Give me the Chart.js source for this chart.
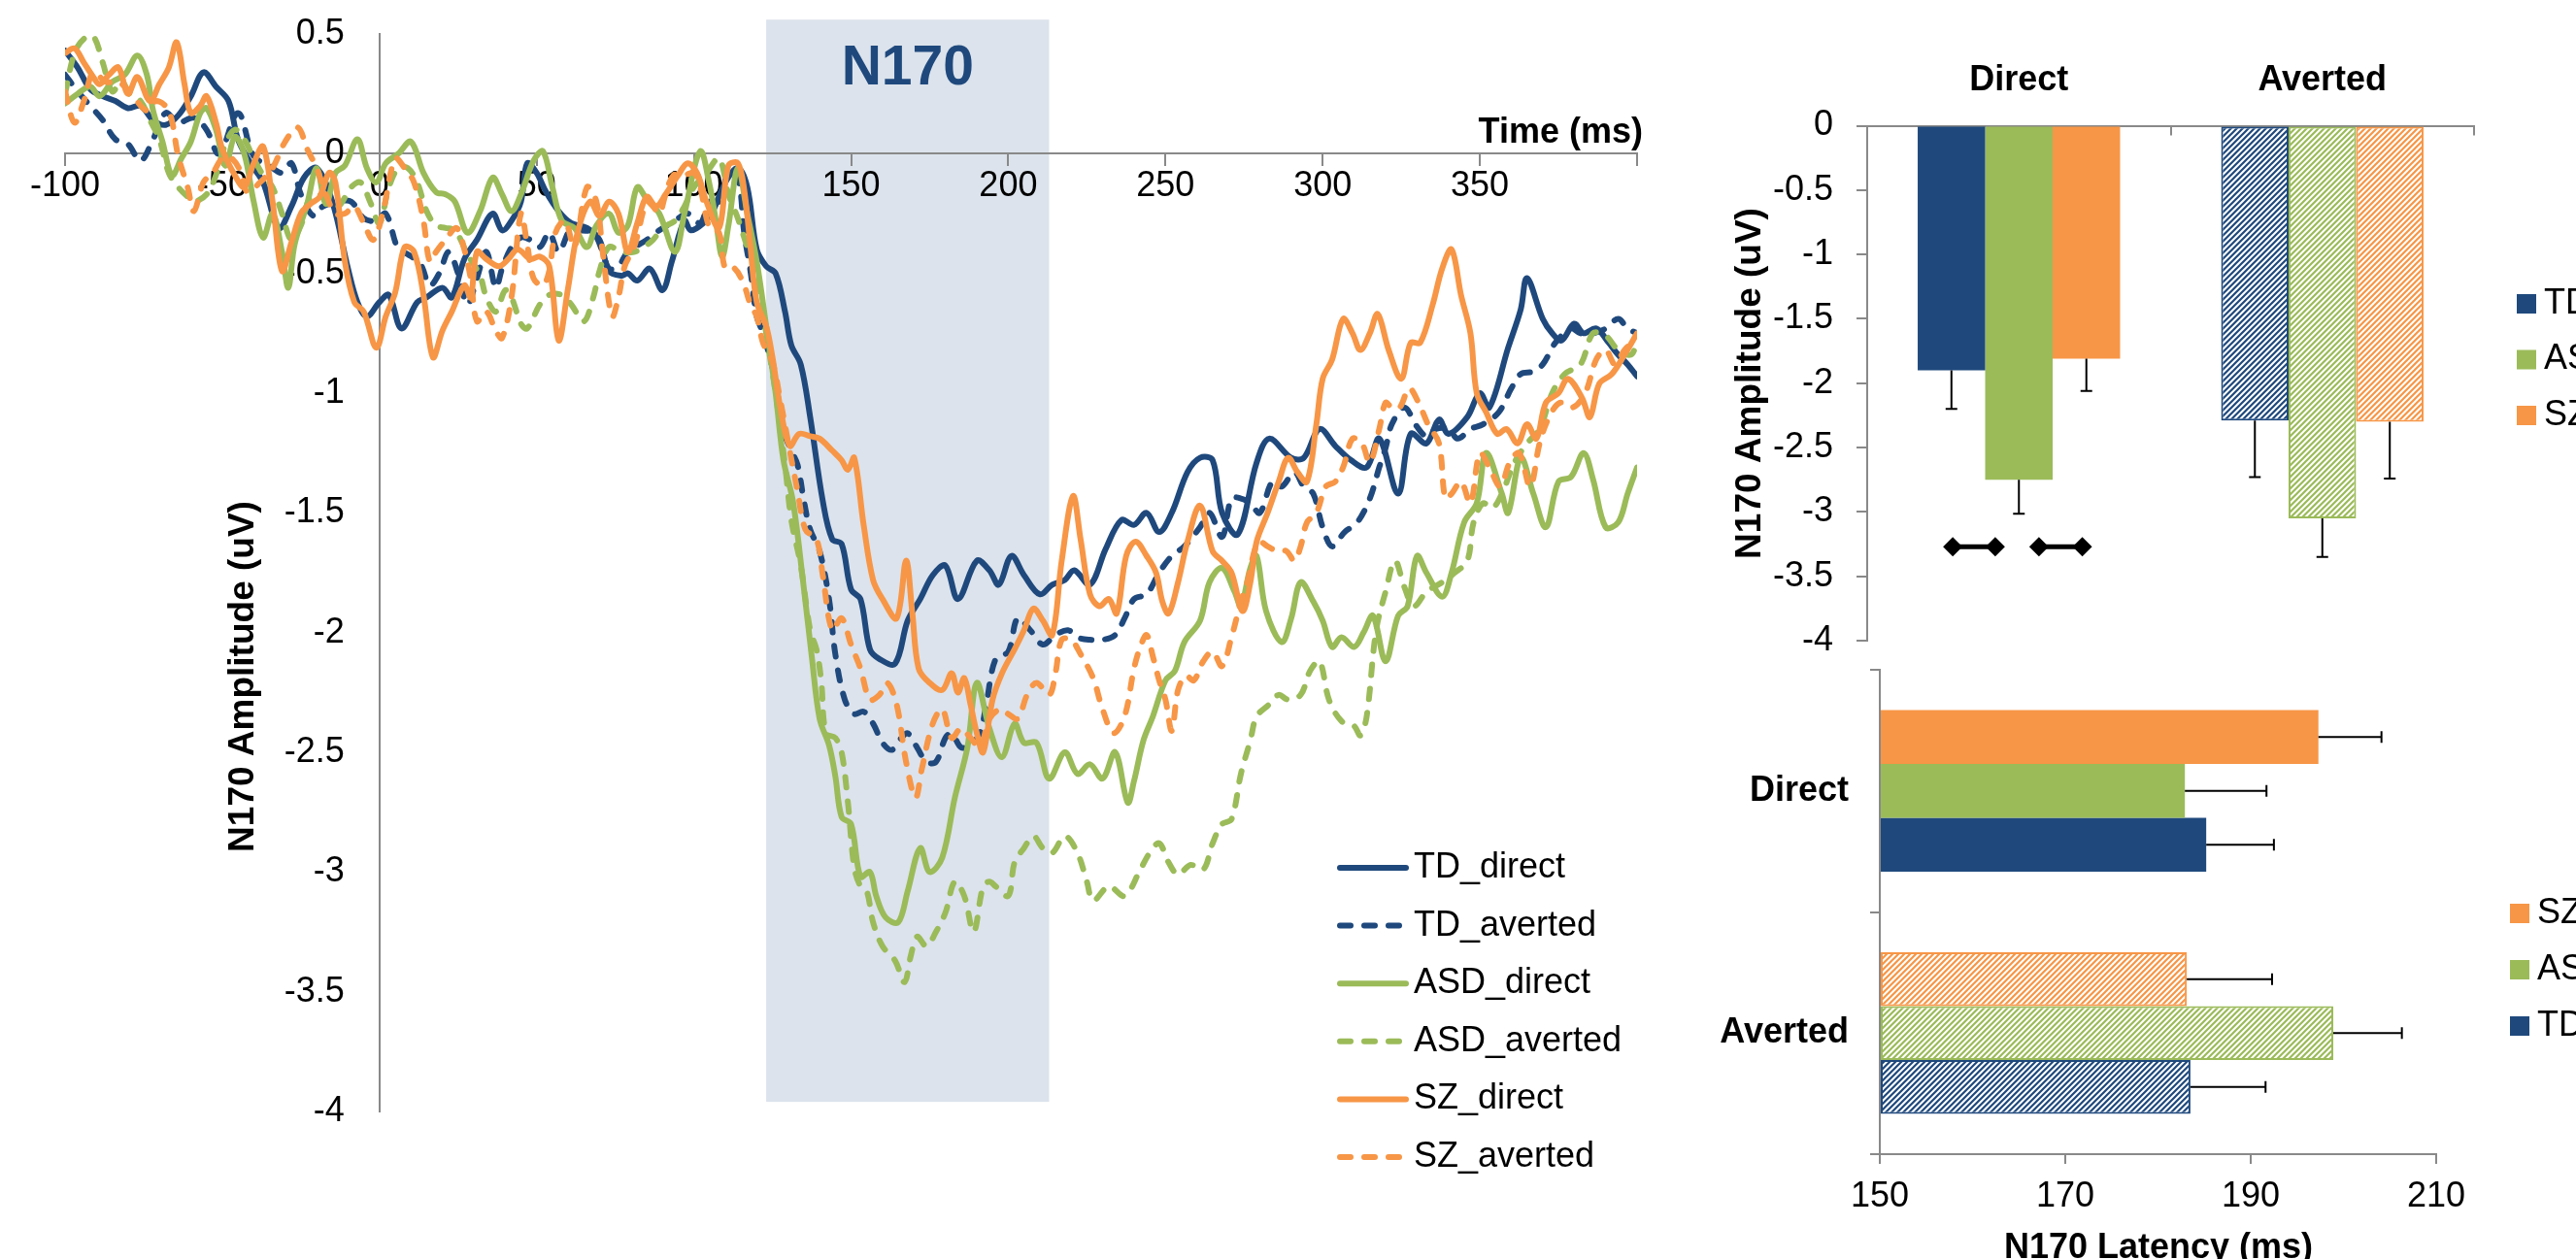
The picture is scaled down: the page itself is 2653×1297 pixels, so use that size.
<!DOCTYPE html>
<html>
<head>
<meta charset="utf-8">
<title>N170 amplitude and latency</title>
<script src="https://cdn.jsdelivr.net/npm/chart.js@4.4.1/dist/chart.umd.min.js"></script>
<style>
  html, body { margin: 0; padding: 0; background: #fff; overflow: hidden; width: 2653px; height: 1297px; }
  canvas { position: absolute; }
</style>
</head>
<body>
<canvas id="erp" width="1740" height="1297" style="left:0;top:0"></canvas>
<canvas id="amp" width="913" height="710" style="left:1740px;top:0"></canvas>
<canvas id="lat" width="913" height="657" style="left:1740px;top:640px"></canvas>
<canvas id="sig" width="913" height="710" style="left:1740px;top:0"></canvas>
<script>
// ---------- Grand-average waveforms: [time (ms), amplitude (uV)] ----------
const TD_direct = [[-100,0.43],[-96,0.36],[-92,0.27],[-88,0.24],[-84,0.22],[-80,0.19],[-76,0.2],[-72,0.14],[-68,0.12],[-64,0.16],[-60,0.24],[-56,0.34],[-52,0.28],[-48,0.22],[-45,0.06],[-41,-0.04],[-37,-0.12],[-32,-0.31],[-28,-0.22],[-24,-0.1],[-20,-0.06],[-15,-0.2],[-10,-0.48],[-7,-0.62],[-4,-0.68],[0,-0.62],[3,-0.59],[7,-0.73],[12,-0.62],[15,-0.6],[20,-0.56],[23,-0.6],[27,-0.44],[31,-0.36],[36,-0.25],[39,-0.32],[42,-0.28],[45,-0.2],[47,-0.04],[50,-0.08],[53,-0.16],[57,-0.24],[61,-0.29],[66,-0.31],[70,-0.36],[73,-0.49],[77,-0.51],[79,-0.5],[82,-0.53],[86,-0.48],[90,-0.57],[93,-0.45],[97,-0.28],[99,-0.32],[103,-0.29],[106,-0.24],[110,-0.12],[114,-0.06],[117,-0.14],[120,-0.4],[123,-0.47],[126,-0.5],[129,-0.66],[131,-0.8],[134,-0.88],[137,-1.1],[141,-1.45],[144,-1.61],[147,-1.63],[150,-1.82],[153,-1.86],[156,-2.07],[159,-2.11],[164,-2.13],[168,-1.95],[172,-1.86],[176,-1.76],[180,-1.72],[184,-1.86],[190,-1.7],[194,-1.74],[197,-1.8],[201,-1.68],[205,-1.76],[210,-1.84],[214,-1.8],[218,-1.78],[221,-1.74],[226,-1.8],[231,-1.65],[236,-1.53],[240,-1.55],[244,-1.5],[248,-1.58],[252,-1.5],[257,-1.33],[261,-1.27],[265,-1.28],[268,-1.5],[273,-1.59],[279,-1.29],[283,-1.19],[290,-1.27],[294,-1.27],[299,-1.15],[304,-1.22],[309,-1.28],[314,-1.31],[318,-1.19],[324,-1.42],[328,-1.17],[333,-1.21],[337,-1.11],[340,-1.17],[346,-1.1],[350,-1.0],[353,-1.06],[359,-0.81],[363,-0.65],[365,-0.52],[370,-0.69],[373,-0.75],[376,-0.78],[380,-0.71],[383,-0.75],[387,-0.73],[391,-0.79],[394,-0.84],[397,-0.88],[400,-0.93]];

const TD_averted = [[-100,0.33],[-96,0.26],[-92,0.2],[-88,0.14],[-84,0.06],[-80,0.04],[-76,-0.03],[-72,0.06],[-68,0.17],[-64,0.13],[-59,0.15],[-55,0.1],[-51,0.0],[-45,0.17],[-40,-0.01],[-35,-0.05],[-31,-0.08],[-28,-0.04],[-25,-0.17],[-21,-0.26],[-18,-0.22],[-13,-0.2],[-9,-0.2],[-5,-0.27],[-1,-0.28],[2,-0.25],[6,-0.4],[9,-0.42],[13,-0.46],[16,-0.55],[19,-0.5],[22,-0.41],[25,-0.5],[28,-0.63],[31,-0.52],[34,-0.41],[37,-0.56],[39,-0.48],[42,-0.39],[45,-0.35],[48,-0.36],[51,-0.39],[54,-0.33],[57,-0.41],[61,-0.31],[64,-0.32],[68,-0.33],[71,-0.41],[73,-0.48],[76,-0.47],[79,-0.41],[85,-0.36],[89,-0.32],[94,-0.28],[98,-0.25],[102,-0.29],[105,-0.2],[108,-0.2],[111,-0.08],[114,-0.1],[116,-0.33],[118,-0.49],[120,-0.68],[122,-0.75],[126,-0.95],[128,-1.14],[131,-1.24],[133,-1.3],[135,-1.45],[137,-1.57],[140,-1.66],[143,-1.86],[145,-2.09],[148,-2.28],[151,-2.34],[154,-2.33],[157,-2.38],[160,-2.46],[163,-2.49],[166,-2.44],[168,-2.42],[171,-2.48],[174,-2.54],[177,-2.54],[180,-2.44],[182,-2.42],[185,-2.48],[188,-2.47],[191,-2.42],[193,-2.3],[196,-2.11],[200,-2.08],[203,-1.94],[207,-1.99],[211,-2.05],[215,-2.01],[219,-1.99],[222,-2.02],[226,-2.03],[230,-2.03],[234,-2.01],[237,-1.94],[240,-1.86],[244,-1.84],[248,-1.75],[252,-1.68],[256,-1.64],[261,-1.56],[264,-1.5],[268,-1.6],[271,-1.44],[274,-1.44],[277,-1.46],[280,-1.5],[284,-1.37],[287,-1.39],[291,-1.33],[294,-1.39],[297,-1.42],[300,-1.56],[303,-1.64],[307,-1.58],[311,-1.54],[315,-1.44],[318,-1.31],[320,-1.23],[322,-1.13],[326,-1.06],[330,-1.14],[333,-1.18],[336,-1.15],[340,-1.15],[343,-1.19],[347,-1.15],[351,-1.13],[356,-1.08],[360,-0.98],[363,-0.92],[367,-0.91],[370,-0.88],[374,-0.79],[379,-0.73],[382,-0.75],[386,-0.75],[390,-0.73],[394,-0.69],[397,-0.73],[400,-0.75]];

const ASD_direct = [[-100,0.21],[-96,0.25],[-92,0.28],[-89,0.24],[-85,0.3],[-81,0.33],[-77,0.41],[-74,0.33],[-72,0.18],[-69,0.05],[-66,-0.09],[-63,-0.02],[-60,0.05],[-57,0.17],[-55,0.19],[-52,0.1],[-49,-0.05],[-46,0.07],[-43,0.0],[-40,-0.2],[-37,-0.35],[-34,-0.25],[-31,-0.41],[-29,-0.56],[-27,-0.38],[-23,-0.21],[-20,-0.06],[-17,-0.21],[-14,-0.08],[-11,-0.05],[-7,0.06],[-4,-0.06],[-1,-0.12],[2,-0.04],[6,0.0],[10,0.05],[14,-0.08],[18,-0.16],[21,-0.17],[24,-0.2],[28,-0.33],[32,-0.24],[36,-0.1],[39,-0.17],[42,-0.24],[45,-0.17],[49,-0.03],[52,0.01],[55,-0.14],[58,-0.28],[62,-0.31],[66,-0.39],[69,-0.3],[73,-0.25],[76,-0.33],[79,-0.3],[82,-0.14],[85,-0.19],[89,-0.25],[94,-0.41],[97,-0.25],[102,0.01],[105,-0.13],[107,-0.28],[109,-0.43],[111,-0.3],[114,-0.06],[117,-0.25],[120,-0.45],[123,-0.72],[126,-1.0],[128.5,-1.28],[131.5,-1.45],[134.5,-1.76],[137.5,-2.1],[140,-2.36],[143,-2.47],[145,-2.6],[147,-2.77],[150,-2.8],[153,-3.02],[156,-3.0],[158,-3.1],[161,-3.19],[165,-3.21],[168,-3.08],[172,-2.9],[175,-3.0],[179,-2.94],[183,-2.69],[187,-2.48],[190,-2.21],[194,-2.4],[198,-2.52],[202,-2.38],[205,-2.46],[209,-2.46],[213,-2.61],[218,-2.5],[222,-2.59],[226,-2.55],[230,-2.61],[234,-2.5],[238,-2.71],[240,-2.62],[243,-2.45],[246,-2.35],[250,-2.2],[253,-2.16],[256,-2.04],[261,-1.95],[264,-1.79],[268,-1.73],[272,-1.83],[274,-1.89],[277,-1.73],[279,-1.68],[282,-1.91],[287,-2.04],[290,-1.94],[293,-1.79],[297,-1.87],[300,-1.95],[303,-2.06],[306,-2.02],[310,-2.06],[313,-2.0],[316,-1.93],[320,-2.12],[324,-1.93],[327,-1.89],[330,-1.68],[333,-1.75],[338,-1.85],[341,-1.75],[345,-1.54],[349,-1.46],[352,-1.25],[357,-1.42],[359,-1.5],[363,-1.27],[367,-1.42],[371,-1.56],[375,-1.37],[379,-1.35],[383,-1.25],[386,-1.36],[390,-1.56],[394,-1.54],[397,-1.42],[400,-1.31]];

const ASD_averted = [[-100,0.25],[-97,0.42],[-94,0.48],[-91,0.49],[-88,0.38],[-85,0.26],[-82,0.3],[-79,0.24],[-76,0.22],[-73,0.14],[-70,0.06],[-67,-0.08],[-64,-0.14],[-61,-0.18],[-59,-0.2],[-55,-0.17],[-52,-0.09],[-49,0.04],[-46,0.1],[-43,0.06],[-40,-0.02],[-37,-0.09],[-34,-0.14],[-31,-0.25],[-28,-0.36],[-25,-0.3],[-22,-0.18],[-19,-0.17],[-16,-0.22],[-13,-0.22],[-9,-0.14],[-6,-0.12],[-3,-0.2],[0,-0.29],[3,-0.14],[6,-0.06],[9,-0.06],[12,-0.12],[15,-0.24],[18,-0.3],[21,-0.31],[24,-0.32],[28,-0.42],[32,-0.51],[34,-0.6],[37,-0.66],[40,-0.57],[42,-0.6],[45,-0.71],[47,-0.73],[51,-0.63],[54,-0.59],[58,-0.59],[61,-0.63],[65,-0.7],[68,-0.6],[70,-0.49],[73,-0.39],[77,-0.41],[81,-0.41],[84,-0.39],[87,-0.36],[90,-0.31],[94,-0.28],[97,-0.22],[100,-0.14],[104,-0.08],[108,-0.02],[111,-0.17],[114,-0.27],[117,-0.39],[120,-0.5],[123,-0.75],[126,-1.0],[129,-1.3],[131,-1.53],[134,-1.72],[137,-1.99],[139,-2.07],[140.5,-2.2],[142,-2.42],[145,-2.44],[147,-2.5],[149,-2.71],[151,-2.98],[153,-3.06],[155,-3.08],[157,-3.21],[160,-3.31],[164,-3.37],[167,-3.46],[169,-3.35],[171,-3.27],[174,-3.31],[177,-3.25],[180,-3.17],[183,-3.04],[186,-3.1],[189,-3.25],[192,-3.06],[194,-3.04],[196,-3.06],[200,-3.1],[202,-2.96],[205,-2.9],[208,-2.85],[211,-2.9],[214,-2.92],[218,-2.85],[222,-2.92],[225,-3.04],[227,-3.12],[232,-3.06],[237,-3.1],[242,-2.99],[245,-2.92],[248,-2.88],[251,-2.96],[254,-3.01],[258,-2.97],[262,-2.99],[265,-2.88],[268,-2.8],[271,-2.78],[274,-2.59],[277,-2.45],[279,-2.35],[283,-2.3],[286,-2.26],[289,-2.28],[293,-2.26],[296,-2.16],[299,-2.12],[302,-2.28],[306,-2.37],[310,-2.39],[312,-2.43],[314,-2.35],[317,-1.99],[320,-1.83],[323,-1.7],[326,-1.81],[329,-1.89],[333,-1.83],[338,-1.79],[342,-1.75],[346,-1.7],[348,-1.54],[351,-1.46],[354,-1.48],[357,-1.42],[361,-1.29],[365,-1.21],[369,-1.15],[373,-1.0],[377,-0.92],[382,-0.88],[386,-0.75],[390,-0.76],[394,-0.82],[398,-0.84],[400,-0.79]];

const SZ_direct = [[-100,0.42],[-97,0.44],[-94,0.38],[-91,0.32],[-89,0.29],[-86,0.33],[-83,0.36],[-80,0.25],[-77,0.32],[-73,0.22],[-70,0.29],[-67,0.36],[-64.5,0.465],[-62,0.29],[-60,0.17],[-57,0.2],[-55,0.24],[-52,0.13],[-50,0.02],[-46,-0.09],[-43,-0.14],[-40,-0.04],[-37,0.03],[-34,-0.2],[-31,-0.49],[-28,-0.37],[-25,-0.25],[-22,-0.21],[-19,-0.18],[-16,-0.08],[-14,-0.12],[-11,-0.45],[-8,-0.62],[-5,-0.66],[-1,-0.81],[2,-0.68],[5,-0.58],[8,-0.39],[11,-0.41],[14,-0.59],[17,-0.85],[20,-0.74],[23,-0.66],[27,-0.55],[29,-0.6],[31,-0.41],[34,-0.44],[38,-0.47],[41,-0.44],[44,-0.4],[48,-0.44],[51,-0.43],[54,-0.47],[57,-0.78],[60,-0.56],[63,-0.33],[67,-0.2],[70,-0.26],[73,-0.2],[76,-0.25],[79,-0.41],[82,-0.29],[85,-0.18],[88,-0.22],[91,-0.17],[95,-0.09],[98,-0.04],[101,-0.08],[104,-0.2],[108,-0.31],[111,-0.05],[114,-0.04],[116,-0.15],[118,-0.39],[120,-0.62],[123,-0.72],[125,-0.85],[127.5,-1.06],[130.5,-1.22],[133.5,-1.17],[137,-1.18],[140,-1.19],[144,-1.24],[147,-1.28],[149,-1.32],[151,-1.27],[154,-1.55],[157,-1.78],[160,-1.86],[164.5,-1.94],[167.5,-1.7],[169.5,-1.92],[171.5,-2.15],[175,-2.21],[179,-2.24],[182,-2.17],[184,-2.25],[186,-2.19],[188,-2.3],[190,-2.42],[192,-2.5],[195,-2.28],[198,-2.17],[202,-2.07],[205,-1.99],[208,-1.9],[211,-1.95],[214,-2.01],[217,-1.7],[220.6,-1.43],[223,-1.61],[226,-1.84],[229,-1.89],[232,-1.86],[234.5,-1.92],[237.5,-1.68],[240.5,-1.62],[244,-1.68],[247,-1.75],[249,-1.87],[251,-1.92],[254,-1.79],[257,-1.62],[261,-1.47],[265,-1.66],[268,-1.7],[271,-1.75],[274.5,-1.91],[277,-1.79],[279,-1.62],[282.5,-1.5],[286,-1.37],[289,-1.27],[292,-1.33],[295,-1.37],[298,-1.13],[300,-0.94],[303,-0.86],[306.5,-0.69],[309.5,-0.75],[312,-0.82],[315,-0.75],[317.5,-0.67],[321,-0.82],[325,-0.94],[328,-0.79],[331,-0.79],[335,-0.63],[338,-0.48],[341,-0.4],[344,-0.59],[347,-0.75],[349,-1.0],[352,-1.08],[355.5,-1.17],[358.5,-1.15],[362,-1.21],[365,-1.13],[368,-1.19],[371,-1.04],[375,-1.0],[378,-0.94],[382.5,-1.02],[385,-1.1],[388,-0.96],[392,-0.92],[396,-0.84],[400,-0.75]];

const SZ_averted = [[-100,0.26],[-97,0.13],[-94,0.22],[-91,0.34],[-87,0.3],[-83,0.3],[-79,0.25],[-74,0.18],[-71,0.22],[-67,0.18],[-64,-0.01],[-61,-0.14],[-59,-0.24],[-56,-0.12],[-53,-0.08],[-50,-0.02],[-47,-0.02],[-44,-0.08],[-42,-0.16],[-38,-0.12],[-34,-0.06],[-30,0.05],[-26,0.11],[-23,0.02],[-20,-0.06],[-17,-0.17],[-14,-0.25],[-11,-0.25],[-8,-0.22],[-5,-0.29],[-2,-0.36],[1,-0.25],[5,-0.02],[8,-0.06],[11,-0.12],[14,-0.28],[16,-0.45],[18,-0.41],[21,-0.36],[24.5,-0.31],[27,-0.4],[29,-0.52],[31,-0.7],[34,-0.66],[37,-0.74],[39,-0.77],[42,-0.6],[45,-0.25],[47,-0.38],[49,-0.52],[52,-0.55],[54,-0.49],[56,-0.33],[59,-0.28],[62,-0.39],[66,-0.14],[69,-0.2],[71,-0.41],[74,-0.68],[76,-0.6],[78,-0.47],[81,-0.39],[85,-0.2],[87,-0.22],[89,-0.25],[91,-0.17],[93.5,-0.09],[97,-0.09],[100,-0.08],[102,-0.14],[105,-0.31],[108,-0.33],[110,-0.48],[113,-0.48],[116,-0.55],[118,-0.63],[120,-0.68],[122,-0.79],[125,-0.87],[127.5,-1.03],[130.5,-1.24],[133,-1.41],[135.5,-1.57],[139,-1.61],[141,-1.76],[144,-1.99],[147,-1.94],[150,-2.05],[153,-2.15],[156,-2.28],[159,-2.26],[161.5,-2.21],[164.5,-2.3],[167.5,-2.54],[170.5,-2.69],[172.5,-2.57],[176,-2.38],[179,-2.32],[182,-2.44],[185,-2.4],[188,-2.44],[191,-2.48],[194,-2.36],[197.5,-2.32],[200,-2.34],[203,-2.36],[206,-2.26],[209,-2.21],[213,-2.26],[215,-2.17],[217,-2.03],[220,-2.03],[223,-2.09],[227,-2.19],[230,-2.32],[233.5,-2.42],[237,-2.35],[240,-2.15],[242,-2.06],[244,-2.01],[246,-2.1],[248,-2.2],[250,-2.28],[252,-2.41],[254,-2.24],[256.5,-2.18],[259,-2.2],[262,-2.12],[265,-2.08],[268,-2.14],[271,-2.02],[274,-1.87],[276,-1.79],[279.5,-1.62],[282.5,-1.64],[285.5,-1.66],[288.5,-1.66],[291,-1.7],[293,-1.64],[295,-1.54],[298,-1.5],[301,-1.39],[304,-1.37],[306.5,-1.31],[309.5,-1.19],[312.5,-1.21],[315,-1.29],[318,-1.15],[320,-1.04],[322,-1.06],[324.5,-1.06],[327.5,-0.98],[330.5,-1.04],[333.5,-1.13],[337,-1.21],[339,-1.44],[341,-1.42],[344,-1.37],[347,-1.46],[350,-1.25],[353,-1.31],[356.5,-1.39],[359.5,-1.29],[362.5,-1.25],[366,-1.39],[369,-1.21],[372,-1.1],[375.5,-1.04],[379.5,-1.06],[383.5,-1.0],[387,-0.86],[390,-0.82],[393,-0.88],[396,-0.82],[400,-0.77]];

// Axis tick labels of the waveform panel (ascending order)
const erpTimeLabels = ['-100','-50','0','50','100','150','200','250','300','350',''];
const erpAmpLabels  = ['-4','-3.5','-3','-2.5','-2','-1.5','-1','-0.5','0','0.5'];

// N170 analysis window (ms) and its vertical extent (uV)
const n170Window = { from: 123, to: 213, top: 0.56, bottom: -3.96, label: 'N170', labelAt: 0.29 };

// ---------- Bar summaries ----------
const gazeConditions = ['Direct', 'Averted'];
const groups = ['TD', 'ASD', 'SZ'];

// N170 amplitude (uV) per group: [Direct, Averted] and the SEM
const ampMean = { TD: [-1.90, -2.29], ASD: [-2.75, -3.05], SZ: [-1.81, -2.30] };
const ampSem  = { TD: [0.30, 0.44],   ASD: [0.265, 0.30],  SZ: [0.25, 0.44] };
const ampTickLabels = ['-4','-3.5','-3','-2.5','-2','-1.5','-1','-0.5','0'];
// significant pairwise differences under Direct: span across the group slots, amplitude level
const sigLevel = -3.27;
const sigPairs = [[-0.218, -0.078], [0.066, 0.209]];

// N170 latency (ms) per group: [Direct, Averted] and the SEM
const latMean = { TD: [185.2, 183.5], ASD: [182.9, 198.9], SZ: [197.3, 183.1] };
const latSem  = { TD: [7.3, 8.1],     ASD: [8.8, 7.4],     SZ: [6.8, 9.2] };
const latTickLabels = ['150', '170', '190', '210'];

// ---------- Styling ----------
const FONT = "'Liberation Sans', Arial, Helvetica, sans-serif";
const COLORS = { TD: '#1F497D', ASD: '#9BBB59', SZ: '#F79646' };
const AXIS_GRAY = '#898989';
Chart.defaults.font.family = FONT;
Chart.defaults.font.size = 36;
Chart.defaults.color = '#000';

function hatch(color) {
  const c = document.createElement('canvas');
  c.width = 6; c.height = 6;
  const g = c.getContext('2d');
  g.fillStyle = '#fff'; g.fillRect(0, 0, 6, 6);
  g.strokeStyle = color; g.lineWidth = 2.2; g.lineCap = 'square';
  g.beginPath();
  g.moveTo(-1, 7); g.lineTo(7, -1);
  g.moveTo(-1, 1); g.lineTo(1, -1);
  g.moveTo(5, 7); g.lineTo(7, 5);
  g.stroke();
  return g.createPattern(c, 'repeat');
}

// fixed axis box sizes so the plot area lands exactly where intended
const boxSize = (size) => (scale) => {
  if (scale.isHorizontal()) scale.height = size; else scale.width = size;
};

// free text (axis titles) drawn on the canvas
function textPlugin(items) {
  return {
    id: 'chartText',
    afterDraw(chart) {
      const ctx = chart.ctx;
      items.forEach(it => {
        ctx.save();
        ctx.font = it.font;
        ctx.fillStyle = it.color || '#000';
        ctx.textAlign = it.align || 'center';
        ctx.textBaseline = 'alphabetic';
        ctx.translate(it.x, it.y);
        if (it.rotate) ctx.rotate(it.rotate);
        ctx.fillText(it.text, 0, 0);
        ctx.restore();
      });
    }
  };
}

// shaded analysis window behind the axes
function windowPlugin(win) {
  return {
    id: 'analysisWindow',
    beforeDraw(chart) {
      const { ctx, scales: { x, y } } = chart;
      const l = x.getPixelForValue(win.from), r = x.getPixelForValue(win.to);
      const t = y.getPixelForValue(win.top), b = y.getPixelForValue(win.bottom);
      ctx.save();
      ctx.fillStyle = '#DCE3EC';
      ctx.fillRect(l, t, r - l, b - t);
      ctx.font = 'bold 57px ' + FONT;
      ctx.fillStyle = '#1F497D';
      ctx.textAlign = 'center';
      ctx.textBaseline = 'alphabetic';
      ctx.fillText(win.label, (l + r) / 2, y.getPixelForValue(win.labelAt));
      ctx.restore();
    }
  };
}

// legend with line samples
function lineLegend(o) {
  return {
    id: 'lineLegend',
    afterDraw(chart) {
      const ctx = chart.ctx;
      ctx.save();
      ctx.font = '36px ' + FONT;
      ctx.textBaseline = 'middle';
      ctx.textAlign = 'left';
      chart.data.datasets.forEach((ds, i) => {
        const y = o.top + i * o.step;
        ctx.strokeStyle = ds.borderColor;
        ctx.lineWidth = ds.borderWidth;
        ctx.lineCap = 'round';
        ctx.setLineDash(ds.borderDash || []);
        ctx.beginPath();
        ctx.moveTo(o.x, y); ctx.lineTo(o.x + o.len, y);
        ctx.stroke();
        ctx.setLineDash([]);
        ctx.fillStyle = '#000';
        ctx.fillText(ds.label, o.x + o.len + o.gap, y);
      });
      ctx.restore();
    }
  };
}

// legend with colour squares
function boxLegend(o) {
  return {
    id: 'boxLegend',
    afterDraw(chart) {
      const ctx = chart.ctx;
      ctx.save();
      ctx.font = '36px ' + FONT;
      ctx.textBaseline = 'middle';
      ctx.textAlign = 'left';
      chart.data.datasets.forEach((ds, k) => {
        const y = o.top + k * o.step;
        ctx.fillStyle = ds.swatch;
        ctx.fillRect(o.x, y - 10, 20, 20);
        ctx.fillStyle = '#000';
        ctx.fillText(ds.label, o.x + 28, y);
      });
      ctx.restore();
    }
  };
}

// one-sided error bars (away from the bar base)
const errorBars = {
  id: 'errorBars',
  afterDatasetsDraw(chart) {
    const ctx = chart.ctx;
    const horizontal = chart.options.indexAxis === 'y';
    ctx.save();
    ctx.strokeStyle = '#000';
    ctx.lineWidth = 2;
    chart.data.datasets.forEach((ds, di) => {
      if (!ds.errors) return;
      const meta = chart.getDatasetMeta(di);
      const vScale = chart.scales[horizontal ? meta.xAxisID : meta.yAxisID];
      meta.data.forEach((bar, i) => {
        const v = ds.data[i], e = ds.errors[i];
        const p = vScale.getPixelForValue(v < 0 ? v - e : v + e);
        ctx.beginPath();
        if (horizontal) {
          ctx.moveTo(bar.x, bar.y); ctx.lineTo(p, bar.y);
          ctx.moveTo(p, bar.y - 6); ctx.lineTo(p, bar.y + 6);
        } else {
          ctx.moveTo(bar.x, bar.y); ctx.lineTo(bar.x, p);
          ctx.moveTo(bar.x - 6, p); ctx.lineTo(bar.x + 6, p);
        }
        ctx.stroke();
      });
    });
    ctx.restore();
  }
};

// ---------- ERP waveforms ----------
const erpSeries = [
  ['TD_direct', TD_direct, COLORS.TD, false],
  ['TD_averted', TD_averted, COLORS.TD, true],
  ['ASD_direct', ASD_direct, COLORS.ASD, false],
  ['ASD_averted', ASD_averted, COLORS.ASD, true],
  ['SZ_direct', SZ_direct, COLORS.SZ, false],
  ['SZ_averted', SZ_averted, COLORS.SZ, true]
];

new Chart(document.getElementById('erp'), {
  type: 'line',
  data: {
    datasets: erpSeries.map(([label, pts, color, dashed], i) => ({
      label,
      data: pts.map(([t, v]) => ({ x: t, y: v })),
      borderColor: color,
      borderWidth: 6,
      borderDash: dashed ? [11, 14] : [],
      borderCapStyle: 'round',
      borderJoinStyle: 'round',
      pointRadius: 0,
      tension: 0.35,
      fill: false,
      order: -i
    }))
  },
  options: {
    responsive: false,
    animation: false,
    layout: { autoPadding: false, padding: { left: 67, right: 54, top: 35, bottom: 152 } },
    plugins: { legend: { display: false }, tooltip: { enabled: false } },
    scales: {
      x: {
        type: 'linear', min: -100, max: 400,
        position: { y: 0 },
        afterFit: boxSize(0),
        border: { display: true, color: AXIS_GRAY, width: 2 },
        grid: { drawOnChartArea: false, drawTicks: true, tickLength: 12, color: AXIS_GRAY, lineWidth: 2 },
        ticks: { stepSize: 50, padding: 0, autoSkip: false, maxRotation: 0, font: { size: 36 },
                 callback: (v, i) => erpTimeLabels[i] }
      },
      y: {
        type: 'linear', min: -4, max: 0.5,
        position: { x: 0 },
        afterFit: boxSize(0),
        border: { display: true, color: AXIS_GRAY, width: 2 },
        grid: { drawOnChartArea: false, drawTicks: false },
        ticks: { stepSize: 0.5, padding: 0, autoSkip: false, font: { size: 36 },
                 callback: (v, i) => erpAmpLabels[i] + '\u2003' }
      }
    }
  },
  plugins: [
    windowPlugin(n170Window),
    lineLegend({ x: 1380, len: 68, gap: 8, top: 894, step: 59.6 }),
    textPlugin([
      { text: 'N170 Amplitude (uV)', font: 'bold 37px ' + FONT, x: 261, y: 697, rotate: -Math.PI / 2 },
      { text: 'Time (ms)', font: 'bold 36px ' + FONT, x: 1692, y: 147, align: 'right' }
    ])
  ]
});

// ---------- N170 amplitude bars ----------
new Chart(document.getElementById('amp'), {
  type: 'bar',
  data: {
    labels: gazeConditions,
    datasets: groups.map(g => ({
      label: g,
      data: ampMean[g],
      errors: ampSem[g],
      swatch: COLORS[g],
      backgroundColor: [COLORS[g], hatch(COLORS[g])],
      borderColor: COLORS[g],
      borderWidth: [0, 2],
      borderSkipped: false,
      categoryPercentage: 0.667,
      barPercentage: 1.0
    }))
  },
  options: {
    responsive: false,
    animation: false,
    layout: { autoPadding: false, padding: { left: 0, right: 105, top: 0, bottom: 50 } },
    plugins: { legend: { display: false }, tooltip: { enabled: false } },
    scales: {
      x: {
        type: 'category', position: 'top',
        afterFit: boxSize(129.5),
        border: { display: true, color: AXIS_GRAY, width: 2 },
        grid: { drawOnChartArea: false, drawTicks: true, tickLength: -10, color: AXIS_GRAY, lineWidth: 2 },
        ticks: { padding: 35, maxRotation: 0, autoSkip: false, font: { size: 36, weight: 'bold' } }
      },
      y: {
        type: 'linear', min: -4, max: 0, position: 'left',
        afterFit: boxSize(183),
        border: { display: true, color: AXIS_GRAY, width: 2 },
        grid: { drawOnChartArea: false, drawTicks: true, tickLength: 11, color: AXIS_GRAY, lineWidth: 2 },
        ticks: { stepSize: 0.5, padding: 24, autoSkip: false, font: { size: 36 },
                 callback: (v, i) => ampTickLabels[i] }
      }
    }
  },
  plugins: [
    errorBars,
    boxLegend({ x: 852, top: 313, step: 57.5 }),
    textPlugin([
      { text: 'N170 Amplitude (uV)', font: 'bold 37px ' + FONT, x: 73, y: 395, rotate: -Math.PI / 2 }
    ])
  ]
});

// significance markers, on the same plot area as the amplitude bars
const sigData = [];
sigPairs.forEach(([a, b], k) => {
  if (k > 0) sigData.push({ x: (sigPairs[k - 1][1] + a) / 2, y: null });
  sigData.push({ x: a, y: sigLevel }, { x: b, y: sigLevel });
});
new Chart(document.getElementById('sig'), {
  type: 'line',
  data: {
    datasets: [{
      label: 'p < .05',
      data: sigData,
      borderColor: '#000',
      borderWidth: 5,
      pointStyle: 'rectRot',
      pointRadius: 10,
      pointBackgroundColor: '#000',
      pointBorderWidth: 0,
      spanGaps: false,
      tension: 0
    }]
  },
  options: {
    responsive: false,
    animation: false,
    layout: { autoPadding: false, padding: { left: 183, right: 105, top: 129.5, bottom: 50 } },
    plugins: { legend: { display: false }, tooltip: { enabled: false } },
    scales: {
      x: { type: 'linear', min: -0.5, max: 1.5, display: false },
      y: { type: 'linear', min: -4, max: 0, display: false }
    }
  }
});

// ---------- N170 latency bars (horizontal) ----------
const latOrder = ['SZ', 'ASD', 'TD'];
new Chart(document.getElementById('lat'), {
  type: 'bar',
  data: {
    labels: gazeConditions,
    datasets: latOrder.map(g => ({
      label: g,
      data: latMean[g],
      errors: latSem[g],
      swatch: COLORS[g],
      backgroundColor: [COLORS[g], hatch(COLORS[g])],
      borderColor: COLORS[g],
      borderWidth: [0, 2],
      borderSkipped: false,
      base: 150,
      categoryPercentage: 0.667,
      barPercentage: 1.0
    }))
  },
  options: {
    indexAxis: 'y',
    responsive: false,
    animation: false,
    layout: { autoPadding: false, padding: { left: 0, right: 144, top: 50, bottom: 0 } },
    plugins: { legend: { display: false }, tooltip: { enabled: false } },
    scales: {
      x: {
        type: 'linear', min: 150, max: 210, position: 'bottom',
        afterFit: boxSize(108),
        border: { display: true, color: AXIS_GRAY, width: 2 },
        grid: { drawOnChartArea: false, drawTicks: true, tickLength: 10, color: AXIS_GRAY, lineWidth: 2 },
        ticks: { stepSize: 20, padding: 12, autoSkip: false, maxRotation: 0, font: { size: 36 },
                 callback: (v, i) => latTickLabels[i] }
      },
      y: {
        type: 'category', position: 'left',
        afterFit: boxSize(196),
        border: { display: true, color: AXIS_GRAY, width: 2 },
        grid: { drawOnChartArea: false, drawTicks: true, tickLength: 10, color: AXIS_GRAY, lineWidth: 2 },
        ticks: { padding: 22, autoSkip: false, font: { size: 36, weight: 'bold' } }
      }
    }
  },
  plugins: [
    errorBars,
    boxLegend({ x: 845, top: 301, step: 58 }),
    textPlugin([
      { text: 'N170 Latency (ms)', font: 'bold 36px ' + FONT, x: 483, y: 656 }
    ])
  ]
});
</script>
</body>
</html>
